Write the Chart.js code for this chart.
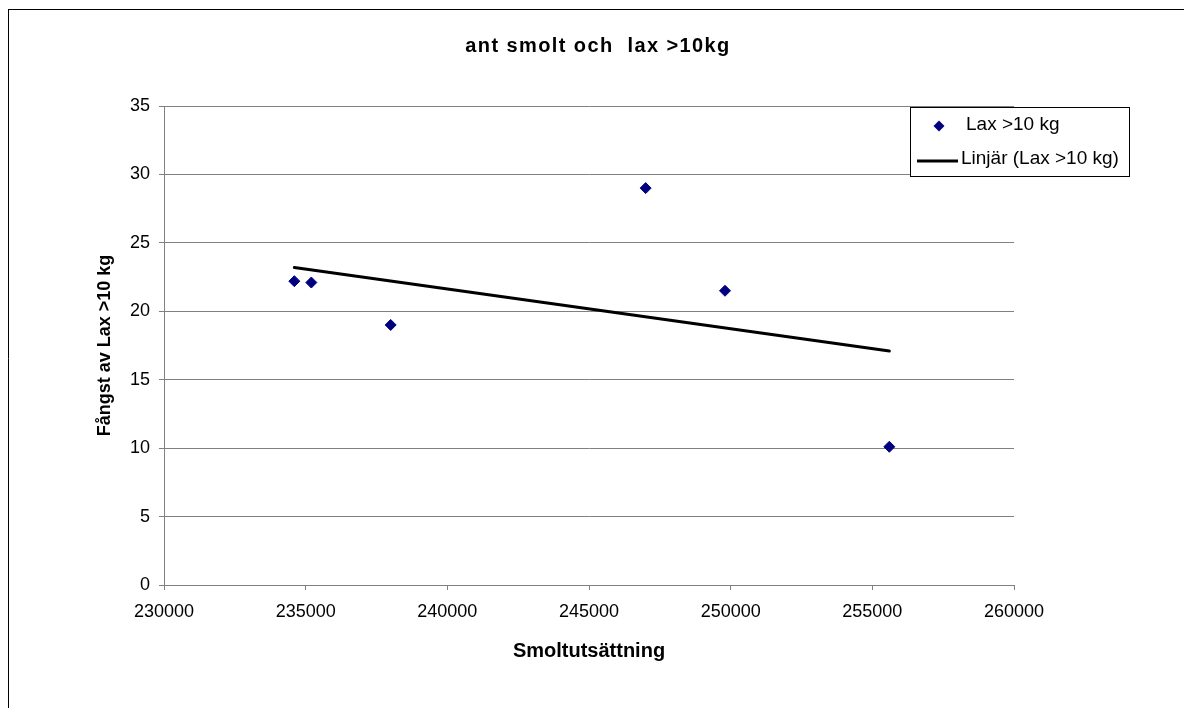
<!DOCTYPE html>
<html>
<head>
<meta charset="utf-8">
<script src="https://cdn.jsdelivr.net/npm/chart.js@4.4.1/dist/chart.umd.min.js"></script>
<style>
  html, body { margin: 0; padding: 0; background: #fff; }
  #wrap { width: 1184px; height: 708px; }
</style>
</head>
<body>
<div id="wrap"><canvas id="chart" width="1184" height="708"></canvas></div>
<script>
// Smolt releases vs catch of salmon >10 kg
const smolt = [234600, 235200, 238000, 247000, 249800, 255600];
const lax10 = [22.2, 22.1, 19.0, 29.0, 21.5, 10.1];

// Excel linear trendline, end points as drawn
const trendX = [234600, 255600];
const trendY = [23.2, 17.1];

const xTicks = [230000, 235000, 240000, 245000, 250000, 255000, 260000];
const yTicks = [0, 5, 10, 15, 20, 25, 30, 35];

const TITLE = 'ant smolt och  lax >10kg';
const SERIES = 'Lax >10 kg';
const TREND = 'Linjär (Lax >10 kg)';
const NAVY = '#000080';
const GRID = '#808080';
const FONT = "'Liberation Sans', Arial, sans-serif";

// frame, title and the boxed legend that sits over the plot's top-right
const excelDecor = {
  id: 'excelDecor',
  afterDraw(chart) {
    const ctx = chart.ctx;
    ctx.save();

    // chart frame (only top + left edges are inside the picture)
    ctx.strokeStyle = '#000';
    ctx.lineWidth = 1;
    ctx.beginPath();
    ctx.moveTo(8, 9.5); ctx.lineTo(1184, 9.5);
    ctx.moveTo(8.5, 9); ctx.lineTo(8.5, 708);
    ctx.stroke();

    // title
    ctx.fillStyle = '#000';
    ctx.font = 'bold 20px ' + FONT;
    ctx.textAlign = 'center';
    ctx.textBaseline = 'middle';
    if ('letterSpacing' in ctx) ctx.letterSpacing = '1.4px';
    ctx.fillText(TITLE, 598, 46);
    if ('letterSpacing' in ctx) ctx.letterSpacing = '0px';

    // legend box
    ctx.fillStyle = '#fff';
    ctx.fillRect(910.5, 107.5, 219, 69);
    ctx.strokeStyle = '#000';
    ctx.lineWidth = 1;
    ctx.strokeRect(910.5, 107.5, 219, 69);

    // marker
    const mx = 939, my = 126, r = 5.5;
    ctx.fillStyle = NAVY;
    ctx.beginPath();
    ctx.moveTo(mx, my - r); ctx.lineTo(mx + r, my);
    ctx.lineTo(mx, my + r); ctx.lineTo(mx - r, my);
    ctx.closePath();
    ctx.fill();

    // trend line sample
    ctx.strokeStyle = '#000';
    ctx.lineWidth = 3;
    ctx.beginPath();
    ctx.moveTo(917, 161); ctx.lineTo(958, 161);
    ctx.stroke();

    ctx.fillStyle = '#000';
    ctx.font = '19px ' + FONT;
    ctx.textAlign = 'left';
    ctx.textBaseline = 'middle';
    ctx.fillText(SERIES, 966, 125);
    ctx.fillText(TREND, 961, 159);

    ctx.restore();
  }
};

new Chart(document.getElementById('chart'), {
  type: 'scatter',
  data: {
    datasets: [
      {
        label: SERIES,
        data: smolt.map((x, i) => ({ x, y: lax10[i] })),
        pointStyle: 'rectRot',
        pointRadius: 5.5,
        backgroundColor: NAVY,
        borderColor: NAVY,
        borderWidth: 1,
      },
      {
        label: TREND,
        data: trendX.map((x, i) => ({ x, y: trendY[i] })),
        showLine: true,
        borderColor: '#000',
        borderWidth: 3,
        pointRadius: 0,
        borderCapStyle: 'round',
      },
    ],
  },
  options: {
    responsive: false,
    animation: false,
    layout: { padding: { left: 0, top: 106, right: 170, bottom: 33 } },
    plugins: {
      legend: { display: false },
      title: { display: false },
      tooltip: { enabled: false },
    },
    scales: {
      x: {
        type: 'linear',
        min: xTicks[0],
        max: xTicks[xTicks.length - 1],
        afterBuildTicks: s => { s.ticks = xTicks.map(v => ({ value: v })); },
        afterFit: s => { s.height = 90; },
        ticks: {
          color: '#000',
          font: { family: FONT, size: 18 },
          padding: 11,
          maxRotation: 0,
          autoSkip: false,
          callback: v => String(v),
        },
        grid: { drawOnChartArea: false, drawTicks: true, tickLength: 5, color: GRID },
        border: { color: GRID, width: 1 },
        title: {
          display: true,
          text: 'Smoltutsättning',
          color: '#000',
          font: { family: FONT, size: 20, weight: 'bold' },
          padding: { top: 0, bottom: 12 },
        },
      },
      y: {
        min: yTicks[0],
        max: yTicks[yTicks.length - 1],
        afterBuildTicks: s => { s.ticks = yTicks.map(v => ({ value: v })); },
        afterFit: s => { s.width = 164; },
        ticks: {
          color: '#000',
          font: { family: FONT, size: 18 },
          padding: 9,
          callback: v => String(v),
        },
        grid: { drawTicks: true, tickLength: 5, color: GRID },
        border: { color: GRID, width: 1 },
        title: {
          display: true,
          text: 'Fångst av Lax >10 kg',
          color: '#000',
          font: { family: FONT, size: 18, weight: 'bold' },
          padding: { top: 94, bottom: 0 },
        },
      },
    },
  },
  plugins: [excelDecor],
});
</script>
</body>
</html>
